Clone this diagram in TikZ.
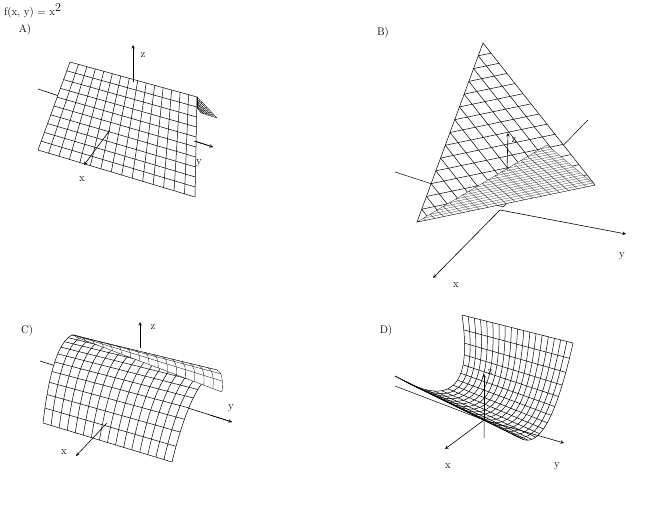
\documentclass[tikz,border=0pt]{standalone}
\usepackage{tikz}
\usetikzlibrary{calc}
\tikzset{mesh/.style={line width=0.5pt},
  dense/.style={line width=0.3pt},
  thin mesh/.style={line width=0.2pt},
  axis/.style={->,>=stealth,line width=0.6pt},
  lbl/.style={font=\fontsize{11}{12}\selectfont,inner sep=0pt}}
% grid on a patch between two quadratic cross sections
\newcommand*{\meshpatch}[9]{%
  \coordinate (L0) at #1; \coordinate (L1) at #2; \coordinate (L2) at #3;
  \coordinate (R0) at #4; \coordinate (R1) at #5; \coordinate (R2) at #6;
  \fill[white] (L0) .. controls ($(L0)!2/3!(L1)$) and ($(L2)!2/3!(L1)$) .. (L2)
    -- (R2) .. controls ($(R2)!2/3!(R1)$) and ($(R0)!2/3!(R1)$) .. (R0) -- cycle;
  \foreach \i in {0,...,#7}{
    \pgfmathsetmacro\u{\i/#7}
    \coordinate (p) at ($(L0)!\u!(R0)$);
    \coordinate (q) at ($(L1)!\u!(R1)$);
    \coordinate (r) at ($(L2)!\u!(R2)$);
    \draw[#9] (p) .. controls ($(p)!2/3!(q)$) and ($(r)!2/3!(q)$) .. (r);
  }
  \foreach \j in {0,...,#8}{
    \pgfmathsetmacro\t{\j/#8}
    \draw[#9] ($ {(1-\t)*(1-\t)}*(L0) + {2*\t*(1-\t)}*(L1) + {\t*\t}*(L2) $)
      -- ($ {(1-\t)*(1-\t)}*(R0) + {2*\t*(1-\t)}*(R1) + {\t*\t}*(R2) $);
  }}
% grid on a triangle, lines parallel to two sides
\newcommand*{\meshtri}[5]{%
  \coordinate (ta) at #1; \coordinate (tb) at #2; \coordinate (tc) at #3;
  \filldraw[fill=white,#5] (ta) -- (tb) -- (tc) -- cycle;
  \foreach \i in {1,...,#4}{
    \pgfmathsetmacro\s{\i/#4}
    \draw[#5] ($(ta)!\s!(tb)$) -- ($(tc)!\s!(tb)$);
    \draw[#5] ($(tb)!\s!(ta)$) -- ($(tc)!\s!(ta)$);
  }}
\begin{document}
\begin{tikzpicture}[x=1pt,y=-1pt]
  \useasboundingbox (0,0) rectangle (650,529);
  \node[lbl,anchor=west] (title) at (4,11) {f(x, y) = x\textsuperscript{\large 2}};
  % A)
  \node[lbl] (la) at (25,30) {A)};
  \coordinate (az0) at (133,82);
  \coordinate (az1) at (133,45);
  \coordinate (ay0) at (38,89);
  \coordinate (ay1) at (213,147);
  \coordinate (ay2) at (194,141);
  \coordinate (ax0) at (110,130);
  \coordinate (ax1) at (84,165);
  \draw[line width=0.6pt] (ay0) -- (ay1);
  \meshpatch{(38,150)}{(54,106)}{(70,62)}{(195,197)}{(196,147)}{(197,97)}{15}{10}{mesh}
  \meshpatch{(197,97)}{(207,107)}{(217,118)}{(197,108)}{(199,110)}{(201,113)}{6}{8}{dense}
  \draw[axis] (az0) -- (az1);
  \draw[axis] (ay2) -- (ay1);
  \draw[axis] (ax0) -- (ax1);
  \node[lbl] (za) at (143,55) {z};
  \node[lbl] (ya) at (199,163) {y};
  \node[lbl] (xa) at (82,179) {x};
  % B)
  \node[lbl] (lb) at (383,33) {B)};
  \coordinate (bo) at (503,207);
  \draw[line width=0.5pt] (395,172) -- (bo) -- (588,120);
  \meshtri{(417,222)}{(483,43)}{(595,185)}{14}{mesh}
  \meshtri{(417,222)}{(547,145)}{(595,185)}{20}{thin mesh}
  \coordinate (bz0) at (507,170);
  \coordinate (bz1) at (508,133);
  \coordinate (bo2) at (500,210);
  \coordinate (bx1) at (433,278);
  \coordinate (by1) at (626,234);
  \draw[axis] (bz0) -- (bz1);
  \draw[axis] (bo2) -- (by1);
  \draw[axis] (bo2) -- (bx1);
  \node[lbl] (zb) at (514,140) {z};
  \node[lbl] (yb) at (622,256) {y};
  \node[lbl] (xb) at (456,285) {x};
  % C)
  \node[lbl] (lc) at (27,331) {C)};
  \coordinate (cz0) at (140,348);
  \coordinate (cz1) at (140,322);
  \coordinate (cy0) at (40,361);
  \coordinate (cy1) at (232,422);
  \coordinate (cy2) at (210,415);
  \coordinate (cx0) at (107,423);
  \coordinate (cx1) at (76,456);
  \draw[line width=0.6pt] (cy0) -- (cy1);
  \meshpatch{(43,423)}{(52,345)}{(72,335)}{(172,462)}{(192,380)}{(217,370)}{16}{10}{mesh}
  \meshpatch{(72,335)}{(74,334)}{(76,337)}{(217,370)}{(224,373)}{(222,392)}{16}{3}{dense}
  \draw[axis] (cz0) -- (cz1);
  \draw[axis] (cy2) -- (cy1);
  \draw[axis] (cx0) -- (cx1);
  \node[lbl] (zc) at (153,327) {z};
  \node[lbl] (yc) at (231,408) {y};
  \node[lbl] (xc) at (64,452) {x};
  % D)
  \node[lbl] (ld) at (386,331) {D)};
  \coordinate (do) at (484,420);
  \draw[line width=0.5pt] (395,386) -- (do) -- (484,438);
  \meshpatch{(462,315)}{(478,425)}{(395,376)}{(573,343)}{(548,455)}{(520,438)}{18}{14}{mesh}
  \coordinate (dz1) at (484,374);
  \coordinate (dx1) at (445,449);
  \coordinate (dy1) at (564,443);
  \draw[axis] (do) -- (dz1);
  \draw[axis] (do) -- (dx1);
  \draw[axis] (do) -- (dy1);
  \node[lbl] (zd) at (490,372) {z};
  \node[lbl] (yd) at (557,466) {y};
  \node[lbl] (xd) at (448,466) {x};
\end{tikzpicture}
\end{document}
